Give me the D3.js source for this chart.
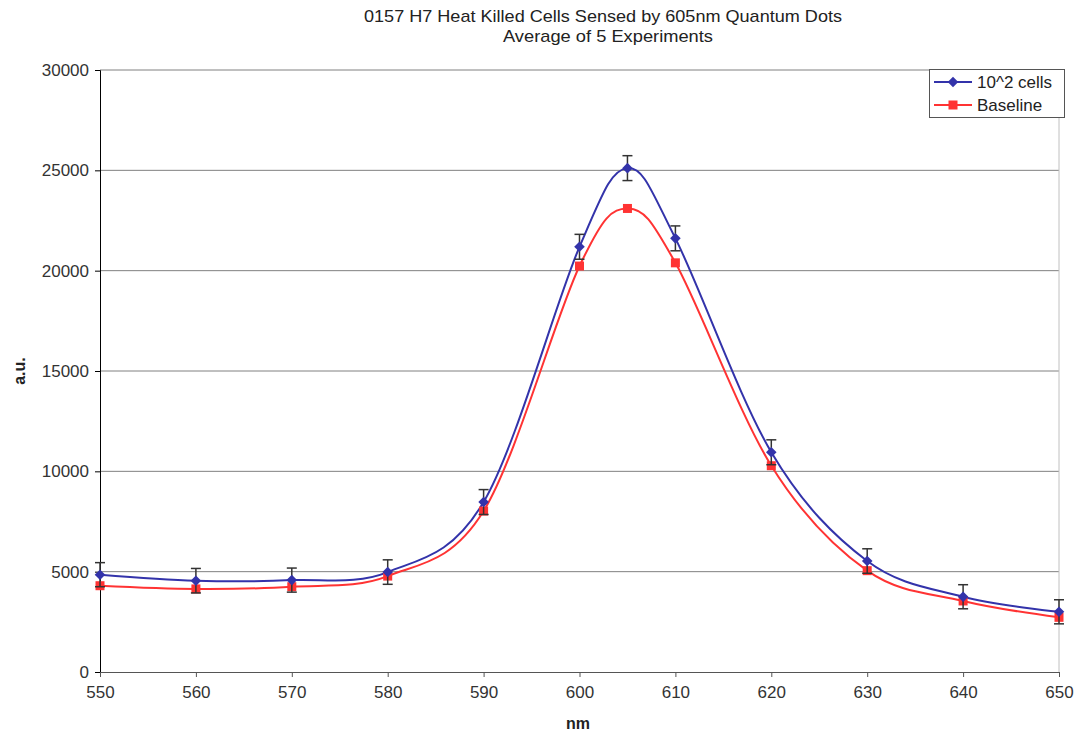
<!DOCTYPE html>
<html>
<head>
<meta charset="utf-8">
<script src="https://cdn.jsdelivr.net/npm/d3@7"></script>
<style>
  body { margin: 0; background: #fff; }
  svg { display: block; font-family: "Liberation Sans", Arial, sans-serif; }
</style>
</head>
<body>
<div id="chart"></div>
<script>
// wavelengths (nm)
const wavelengths = [550, 560, 570, 580, 590, 600, 605, 610, 620, 630, 640, 650];
// 10^2 cells series
const cellsValues = [4850, 4550, 4580, 4980, 8470, 21190, 25110, 21610, 10950, 5530, 3750, 3000];
const cellsErrors = [600, 610, 600, 610, 620, 620, 620, 620, 620, 610, 600, 600];
// Baseline series
const baselineValues = [4300, 4140, 4250, 4780, 8020, 20230, 23100, 20390, 10280, 5050, 3540, 2725];
const yTicks = [0, 5000, 10000, 15000, 20000, 25000, 30000];
const xTicks = [550, 560, 570, 580, 590, 600, 610, 620, 630, 640, 650];

const width = 1077, height = 735;
const margin = { left: 100, right: 18, top: 70, bottom: 63 };

const svg = d3.select('#chart').append('svg')
    .attr('width', width)
    .attr('height', height);

const x = d3.scaleLinear().domain([550, 650]).range([margin.left, width - margin.right]);
const y = d3.scaleLinear().domain([0, 30000]).range([height - margin.bottom, margin.top]);

// gridlines
svg.append('g')
    .selectAll('line')
    .data(yTicks.filter(d => d > 0))
    .enter().append('line')
    .attr('x1', x(550)).attr('x2', x(650))
    .attr('y1', d => y(d)).attr('y2', d => y(d))
    .attr('stroke', '#808080')
    .attr('stroke-width', 1);

// right border
svg.append('line')
    .attr('x1', x(650)).attr('x2', x(650))
    .attr('y1', y(0)).attr('y2', y(30000))
    .attr('stroke', '#c0c0c0');

// y axis
const yAxis = svg.append('g')
    .attr('transform', `translate(${x(550)},0)`)
    .call(d3.axisLeft(y).tickValues(yTicks).tickSize(5).tickPadding(6).tickFormat(d3.format('d')));
yAxis.select('.domain').attr('stroke', '#000');
yAxis.selectAll('.tick line').attr('stroke', '#000');
yAxis.selectAll('text').attr('font-size', 17).attr('fill', '#333')
    .attr('font-family', '"Liberation Sans", Arial, sans-serif');

// x axis
const xAxis = svg.append('g')
    .attr('transform', `translate(0,${y(0)})`)
    .call(d3.axisBottom(x).tickValues(xTicks).tickSize(5).tickPadding(9).tickFormat(d3.format('d')));
xAxis.select('.domain').attr('stroke', '#555');
xAxis.selectAll('.tick line').attr('stroke', '#555');
xAxis.selectAll('text').attr('font-size', 17).attr('fill', '#333')
    .attr('font-family', '"Liberation Sans", Arial, sans-serif');

// titles
svg.append('text')
    .attr('x', 603).attr('y', 22)
    .attr('text-anchor', 'middle')
    .attr('font-size', 17).attr('fill', '#222')
    .attr('textLength', 478).attr('lengthAdjust', 'spacingAndGlyphs')
    .text('0157 H7 Heat Killed Cells Sensed by 605nm Quantum Dots');
svg.append('text')
    .attr('x', 608).attr('y', 42)
    .attr('text-anchor', 'middle')
    .attr('font-size', 17).attr('fill', '#222')
    .attr('textLength', 210).attr('lengthAdjust', 'spacingAndGlyphs')
    .text('Average of 5 Experiments');

svg.append('text')
    .attr('x', 578).attr('y', 729)
    .attr('text-anchor', 'middle')
    .attr('font-size', 16).attr('font-weight', 'bold').attr('fill', '#222')
    .text('nm');
svg.append('text')
    .attr('transform', 'translate(25,371) rotate(-90)')
    .attr('text-anchor', 'middle')
    .attr('font-size', 16).attr('font-weight', 'bold').attr('fill', '#222')
    .text('a.u.');

const blue = '#3333aa';
const red = '#ff3333';

const line = d3.line()
    .x(d => x(d[0]))
    .y(d => y(d[1]))
    .curve(d3.curveCardinal.tension(0));

const cellsData = wavelengths.map((w, i) => [w, cellsValues[i]]);
const baseData = wavelengths.map((w, i) => [w, baselineValues[i]]);

svg.append('path')
    .datum(baseData)
    .attr('d', line)
    .attr('fill', 'none')
    .attr('stroke', red)
    .attr('stroke-width', 2);

svg.append('path')
    .datum(cellsData)
    .attr('d', line)
    .attr('fill', 'none')
    .attr('stroke', blue)
    .attr('stroke-width', 2);

// baseline markers (squares)
svg.append('g')
    .selectAll('rect')
    .data(baseData)
    .enter().append('rect')
    .attr('x', d => x(d[0]) - 4.5)
    .attr('y', d => y(d[1]) - 4.5)
    .attr('width', 9).attr('height', 9)
    .attr('fill', red);

// error bars
const eb = svg.append('g').attr('stroke', '#333').attr('stroke-width', 1.5);
wavelengths.forEach((w, i) => {
    const cx = x(w);
    const top = y(cellsValues[i] + cellsErrors[i]);
    const bot = y(cellsValues[i] - cellsErrors[i]);
    eb.append('line').attr('x1', cx).attr('x2', cx).attr('y1', top).attr('y2', bot);
    eb.append('line').attr('x1', cx - 5).attr('x2', cx + 5).attr('y1', top).attr('y2', top);
    eb.append('line').attr('x1', cx - 5).attr('x2', cx + 5).attr('y1', bot).attr('y2', bot);
});

// cells markers (diamonds)
const diamond = d3.symbol().type(d3.symbolSquare).size(56);
svg.append('g')
    .selectAll('path')
    .data(cellsData)
    .enter().append('path')
    .attr('d', diamond)
    .attr('transform', d => `translate(${x(d[0])},${y(d[1])}) rotate(45)`)
    .attr('fill', blue);

// legend
const legend = svg.append('g');
legend.append('rect')
    .attr('x', 929.5).attr('y', 69.5)
    .attr('width', 135).attr('height', 48)
    .attr('fill', '#fff')
    .attr('stroke', '#555');
const legendItems = [
    { label: '10^2 cells', color: blue, shape: 'diamond', y: 82 },
    { label: 'Baseline', color: red, shape: 'square', y: 105 }
];
legendItems.forEach(it => {
    legend.append('line')
        .attr('x1', 934).attr('x2', 972)
        .attr('y1', it.y).attr('y2', it.y)
        .attr('stroke', it.color).attr('stroke-width', 2);
    if (it.shape === 'diamond') {
        legend.append('path')
            .attr('d', diamond)
            .attr('transform', `translate(953,${it.y}) rotate(45)`)
            .attr('fill', it.color);
    } else {
        legend.append('rect')
            .attr('x', 948.5).attr('y', it.y - 4.5)
            .attr('width', 9).attr('height', 9)
            .attr('fill', it.color);
    }
    legend.append('text')
        .attr('x', 977).attr('y', it.y + 6)
        .attr('font-size', 17).attr('fill', '#222')
        .text(it.label);
});
</script>
</body>
</html>
